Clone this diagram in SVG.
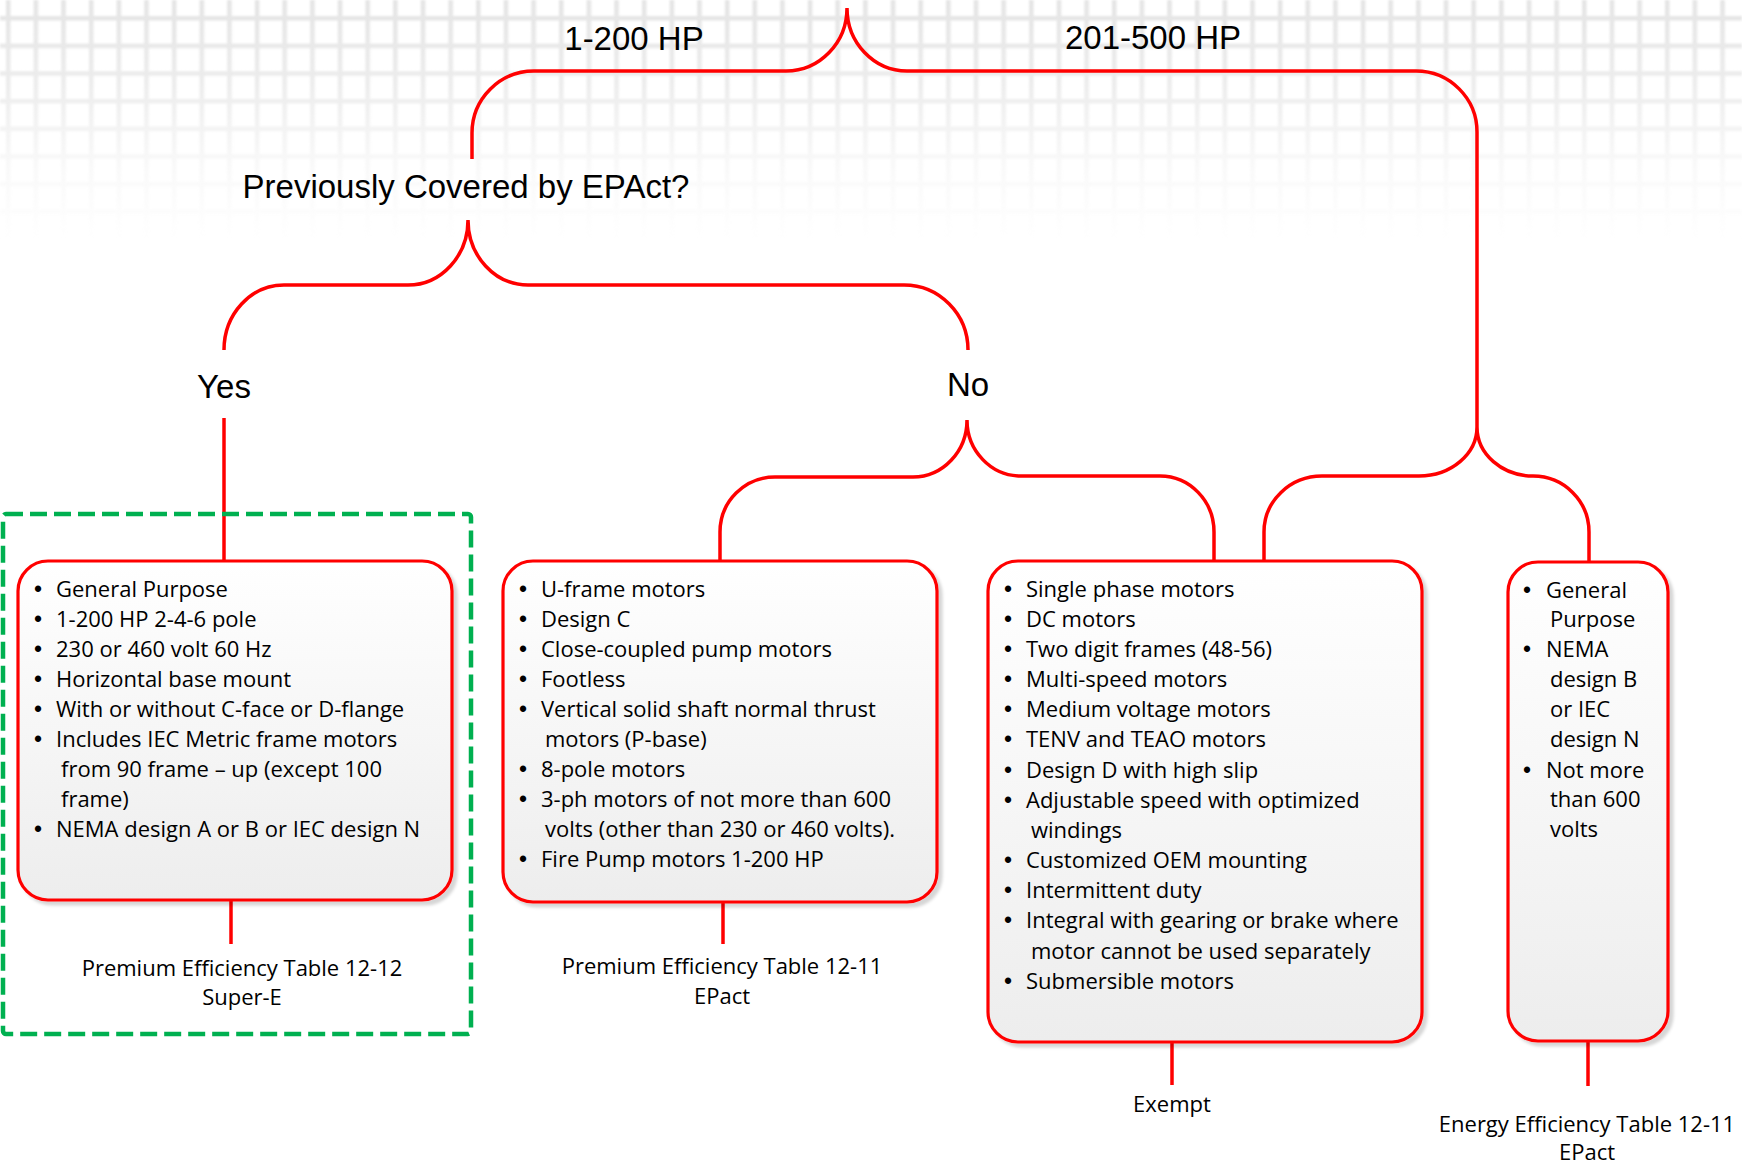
<svg xmlns="http://www.w3.org/2000/svg" width="1742" height="1163" viewBox="0 0 1742 1163">
<style>
.head{font-family:"Liberation Sans",Arial,sans-serif;font-size:33px;fill:#000}
.body{font-family:"Open Sans","Noto Sans",sans-serif;font-size:22px;fill:#000}
.lbl{font-family:"Open Sans","Noto Sans",sans-serif;font-size:22px;fill:#000;text-anchor:middle}
.bul{font-family:"Liberation Sans",Arial,sans-serif;font-size:23px;fill:#000;text-anchor:middle}
.box{fill:url(#boxfill);stroke:#FF0000;stroke-width:3.2;filter:url(#shadow)}
.conn{fill:none;stroke:#FF0000;stroke-width:3.5}
</style>
<defs>
<pattern id="grid" x="6" y="16" width="27.65" height="27.65" patternUnits="userSpaceOnUse">
<rect x="0" y="0" width="4.5" height="27.65" fill="#E4E4E4"/>
<rect x="0" y="0" width="27.65" height="4.5" fill="#E4E4E4"/>
</pattern>
<linearGradient id="fade" x1="0" y1="0" x2="0" y2="1">
<stop offset="0" stop-color="#fff" stop-opacity="1"/>
<stop offset="0.35" stop-color="#fff" stop-opacity="0.7"/>
<stop offset="0.7" stop-color="#fff" stop-opacity="0.22"/>
<stop offset="1" stop-color="#fff" stop-opacity="0"/>
</linearGradient>
<mask id="gridmask" maskUnits="userSpaceOnUse" x="0" y="0" width="1742" height="240">
<rect x="0" y="0" width="1742" height="240" fill="url(#fade)"/>
</mask>
<filter id="soft" x="0" y="0" width="100%" height="100%">
<feGaussianBlur stdDeviation="0.9"/>
</filter>
<linearGradient id="boxfill" x1="0" y1="0" x2="0" y2="1">
<stop offset="0" stop-color="#FFFFFF"/>
<stop offset="1" stop-color="#EDEDED"/>
</linearGradient>
<filter id="shadow" x="-5%" y="-5%" width="115%" height="115%">
<feDropShadow dx="4" dy="4" stdDeviation="1.5" flood-color="#000" flood-opacity="0.16"/>
</filter>
</defs>
<rect x="0" y="0" width="1742" height="1163" fill="#FFFFFF"/>
<g mask="url(#gridmask)">
<rect x="0" y="0" width="1742" height="240" fill="url(#grid)" filter="url(#soft)"/>
</g>

<g id="connectors">
<path class="conn" d="M472,159 V133 A62,62 0 0 1 534,71 H786 A61,63 0 0 0 847,8 A60,63 0 0 0 907,71 H1416 A61,61 0 0 1 1477,132 V427"/>
<path class="conn" d="M1264,561 V532 A58,56 0 0 1 1322,476 H1419 A58,49 0 0 0 1477,427 A56,49 0 0 0 1533,476 A56,56 0 0 1 1589,532 V561"/>
<path class="conn" d="M224,350 A60,65 0 0 1 284,285 H408 A60,65 0 0 0 468,220 A60,65 0 0 0 528,285 H904 A64,65 0 0 1 968,350"/>
<path class="conn" d="M720,561 V532 A55,55 0 0 1 775,477 H913 A54,57 0 0 0 967,420 A54,56 0 0 0 1021,476 H1160 A54,56 0 0 1 1214,532 V561"/>
<path class="conn" d="M224,418 V561"/>
<path class="conn" d="M231,900 V944"/>
<path class="conn" d="M723,902 V944"/>
<path class="conn" d="M1172,1042 V1085"/>
<path class="conn" d="M1588,1041 V1086"/>
</g>

<g id="hp-labels">
<text class="head" x="634" y="50" text-anchor="middle">1-200 HP</text>
<text class="head" x="1153" y="49" text-anchor="middle">201-500 HP</text>
</g>
<g id="question">
<text class="head" x="466" y="198" text-anchor="middle">Previously Covered by EPAct?</text>
</g>
<g id="yes">
<text class="head" x="224" y="398" text-anchor="middle">Yes</text>
</g>
<g id="no">
<text class="head" x="968" y="396" text-anchor="middle">No</text>
</g>

<g id="super-e-group">
<rect x="3" y="514" width="468" height="520" rx="3" fill="none" stroke="#00B050" stroke-width="4.5" stroke-dasharray="17 7"/>
</g>

<g id="box-yes">
<rect class="box" x="18" y="561" width="434" height="339" rx="30"/>
<text class="bul" x="38" y="597">•</text><text class="body" x="56" y="597">General Purpose</text>
<text class="bul" x="38" y="627">•</text><text class="body" x="56" y="627">1-200 HP 2-4-6 pole</text>
<text class="bul" x="38" y="657">•</text><text class="body" x="56" y="657">230 or 460 volt 60 Hz</text>
<text class="bul" x="38" y="687">•</text><text class="body" x="56" y="687">Horizontal base mount</text>
<text class="bul" x="38" y="717">•</text><text class="body" x="56" y="717">With or without C-face or D-flange</text>
<text class="bul" x="38" y="747">•</text><text class="body" x="56" y="747">Includes IEC Metric frame motors</text>
<text class="body" x="61" y="777">from 90 frame – up (except 100</text>
<text class="body" x="61" y="807">frame)</text>
<text class="bul" x="38" y="837">•</text><text class="body" x="56" y="837">NEMA design A or B or IEC design N</text>
</g>
<g id="label-yes">
<text class="lbl" x="242" y="976">Premium Efficiency Table 12-12</text>
<text class="lbl" x="242" y="1005">Super-E</text>
</g>

<g id="box-no-covered">
<rect class="box" x="503" y="561" width="434" height="341" rx="30"/>
<text class="bul" x="523" y="597">•</text><text class="body" x="541" y="597">U-frame motors</text>
<text class="bul" x="523" y="627">•</text><text class="body" x="541" y="627">Design C</text>
<text class="bul" x="523" y="657">•</text><text class="body" x="541" y="657">Close-coupled pump motors</text>
<text class="bul" x="523" y="687">•</text><text class="body" x="541" y="687">Footless</text>
<text class="bul" x="523" y="717">•</text><text class="body" x="541" y="717">Vertical solid shaft normal thrust</text>
<text class="body" x="545" y="747">motors (P-base)</text>
<text class="bul" x="523" y="777">•</text><text class="body" x="541" y="777">8-pole motors</text>
<text class="bul" x="523" y="807">•</text><text class="body" x="541" y="807">3-ph motors of not more than 600</text>
<text class="body" x="545" y="837">volts (other than 230 or 460 volts).</text>
<text class="bul" x="523" y="867">•</text><text class="body" x="541" y="867">Fire Pump motors 1-200 HP</text>
</g>
<g id="label-no-covered">
<text class="lbl" x="722" y="974">Premium Efficiency Table 12-11</text>
<text class="lbl" x="722" y="1004">EPact</text>
</g>

<g id="box-exempt">
<rect class="box" x="988" y="561" width="434" height="481" rx="30"/>
<text class="bul" x="1008" y="597">•</text><text class="body" x="1026" y="597">Single phase motors</text>
<text class="bul" x="1008" y="627">•</text><text class="body" x="1026" y="627">DC motors</text>
<text class="bul" x="1008" y="657">•</text><text class="body" x="1026" y="657">Two digit frames (48-56)</text>
<text class="bul" x="1008" y="687">•</text><text class="body" x="1026" y="687">Multi-speed motors</text>
<text class="bul" x="1008" y="717">•</text><text class="body" x="1026" y="717">Medium voltage motors</text>
<text class="bul" x="1008" y="747">•</text><text class="body" x="1026" y="747">TENV and TEAO motors</text>
<text class="bul" x="1008" y="778">•</text><text class="body" x="1026" y="778">Design D with high slip</text>
<text class="bul" x="1008" y="808">•</text><text class="body" x="1026" y="808">Adjustable speed with optimized</text>
<text class="body" x="1031" y="838">windings</text>
<text class="bul" x="1008" y="868">•</text><text class="body" x="1026" y="868">Customized OEM mounting</text>
<text class="bul" x="1008" y="898">•</text><text class="body" x="1026" y="898">Intermittent duty</text>
<text class="bul" x="1008" y="928">•</text><text class="body" x="1026" y="928">Integral with gearing or brake where</text>
<text class="body" x="1031" y="959">motor cannot be used separately</text>
<text class="bul" x="1008" y="989">•</text><text class="body" x="1026" y="989">Submersible motors</text>
</g>
<g id="label-exempt">
<text class="lbl" x="1172" y="1112">Exempt</text>
</g>

<g id="box-201-500">
<rect class="box" x="1508" y="562" width="160" height="479" rx="30"/>
<text class="bul" x="1527" y="598">•</text><text class="body" x="1546" y="598">General</text>
<text class="body" x="1550" y="627">Purpose</text>
<text class="bul" x="1527" y="657">•</text><text class="body" x="1546" y="657">NEMA</text>
<text class="body" x="1550" y="687">design B</text>
<text class="body" x="1550" y="717">or IEC</text>
<text class="body" x="1550" y="747">design N</text>
<text class="bul" x="1527" y="778">•</text><text class="body" x="1546" y="778">Not more</text>
<text class="body" x="1550" y="807">than 600</text>
<text class="body" x="1550" y="837">volts</text>
</g>
<g id="label-201-500">
<text class="lbl" x="1587" y="1132">Energy Efficiency Table 12-11</text>
<text class="lbl" x="1587" y="1160">EPact</text>
</g>
</svg>
